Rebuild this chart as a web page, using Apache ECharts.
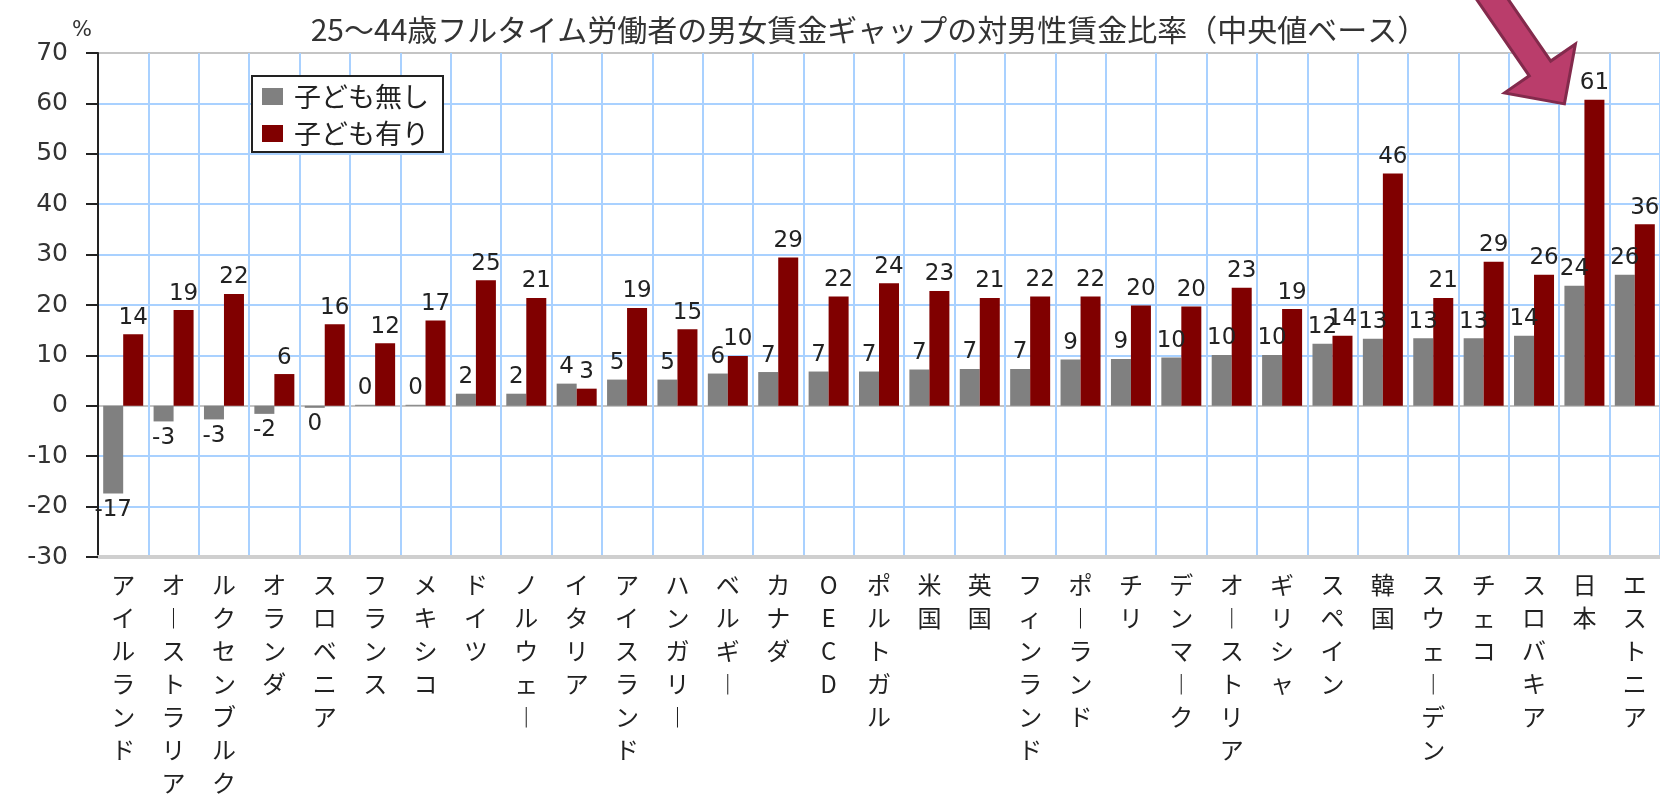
<!DOCTYPE html>
<html>
<head>
<meta charset="utf-8">
<script src="https://cdn.jsdelivr.net/npm/echarts@6/dist/echarts.min.js"></script>
<style>
html,body{margin:0;padding:0;background:#fff;}
#chart{width:1660px;height:803px;}
</style>
</head>
<body>
<div id="chart"></div>
<script>
// ---- data ----
const titleText = '25〜44歳フルタイム労働者の男女賃金ギャップの対男性賃金比率（中央値ベース）';
const unitLabel = '%';
const seriesNames = ['子ども無し', '子ども有り'];
const categories = ['アイルランド','オーストラリア','ルクセンブルク','オランダ','スロベニア','フランス','メキシコ','ドイツ','ノルウェー','イタリア','アイスランド','ハンガリー','ベルギー','カナダ','OECD','ポルトガル','米国','英国','フィンランド','ポーランド','チリ','デンマーク','オーストリア','ギリシャ','スペイン','韓国','スウェーデン','チェコ','スロバキア','日本','エストニア'];
const noChildren = [-17.4,-3.1,-2.7,-1.6,-0.4,0.2,0.2,2.4,2.4,4.4,5.2,5.2,6.4,6.7,6.8,6.8,7.2,7.3,7.3,9.2,9.3,9.6,10.1,10.1,12.3,13.3,13.4,13.4,13.9,23.8,26.0];
const withChildren = [14.2,19.0,22.2,6.3,16.2,12.4,16.9,24.9,21.4,3.4,19.4,15.2,9.9,29.4,21.7,24.3,22.8,21.4,21.7,21.7,19.9,19.7,23.4,19.2,13.9,46.1,21.4,28.6,26.0,60.7,36.0];
const yMin = -30, yMax = 70, yStep = 10;
const highlightCategory = '日本';

// ---- chart ----
const chart = echarts.init(document.getElementById('chart'));
const numFont = 'DejaVu Sans';
const jpFont = '"Noto Sans CJK JP", "Noto Sans", sans-serif';
const blue = '#a9d1ff';
const grayLine = '#c4c4c4';

function toItems(arr) {
  return arr.map(v => ({ value: v, label: { position: v < 0 ? 'bottom' : 'top' } }));
}
const labelCfg = {
  show: true,
  distance: 5,
  fontFamily: numFont,
  fontSize: 23,
  color: '#222',
  formatter: p => String(Math.round(p.value))
};

const splitColors = [];
for (let v = yMin; v <= yMax; v += yStep) {
  splitColors.push((v === 0 || v === yMin || v === yMax) ? grayLine : blue);
}

chart.setOption({
  animation: false,
  backgroundColor: '#fff',
  title: {
    text: titleText,
    left: 864,
    top: 10,
    textAlign: 'center',
    textStyle: { fontFamily: jpFont, fontSize: 30, fontWeight: 'normal', color: '#333' }
  },
  legend: {
    orient: 'vertical',
    left: 252,
    top: 76,
    padding: [7, 14, 5, 10],
    itemGap: 10,
    itemWidth: 21,
    itemHeight: 17,
    backgroundColor: '#fff',
    borderColor: '#222',
    borderWidth: 2,
    icon: 'rect',
    textStyle: { fontFamily: jpFont, fontSize: 27, color: '#222', padding: [0, 0, 0, 6] },
    data: seriesNames
  },
  grid: { left: 98, right: -13, top: 53, bottom: 246 },
  xAxis: {
    type: 'category',
    data: categories,
    position: 'bottom',
    axisLine: { onZero: false, lineStyle: { color: '#cfcfcf', width: 4 } },
    axisTick: { show: false },
    splitLine: { show: true, lineStyle: { color: blue, width: 2 } },
    axisLabel: {
      interval: 0,
      margin: 11,
      fontFamily: jpFont,
      fontSize: 24,
      lineHeight: 33,
      color: '#222',
      verticalAlign: 'top',
      formatter: name => name.split('').map(c => c === 'ー' ? '︱' : c).join('\n')
    }
  },
  yAxis: {
    type: 'value',
    min: yMin,
    max: yMax,
    interval: yStep,
    name: unitLabel,
    nameLocation: 'end',
    nameGap: 10,
    nameTextStyle: { fontFamily: numFont, fontSize: 21, color: '#333', align: 'right', padding: [0, 6, 0, 0] },
    axisLine: { show: true, lineStyle: { color: '#222', width: 2 } },
    axisTick: { show: true, length: 12, lineStyle: { color: '#222', width: 2 } },
    axisLabel: { fontFamily: numFont, fontSize: 25, color: '#333', margin: 30 },
    splitLine: { show: true, lineStyle: { color: splitColors, width: 2 } }
  },
  series: [
    {
      name: seriesNames[0],
      type: 'bar',
      data: toItems(noChildren),
      barWidth: 20,
      barGap: '0%',
      itemStyle: { color: '#808080' },
      label: labelCfg
    },
    {
      name: seriesNames[1],
      type: 'bar',
      data: toItems(withChildren),
      barWidth: 20,
      barGap: '0%',
      itemStyle: { color: '#800000' },
      label: labelCfg
    }
  ]
});

// ---- annotation arrow pointing at Japan's bar ----
const jIdx = categories.indexOf(highlightCategory);
const barTop = chart.convertToPixel({ seriesIndex: 1 }, [jIdx, withChildren[jIdx]]);
const cx = chart.convertToPixel({ xAxisIndex: 0 }, highlightCategory);
const T = [cx - 20, barTop[1] + 4];
const d = [0.568, 0.824];
const n = [-d[1], d[0]];
const H = 43, W = 43, S = 13, L = 200;
const B = [T[0] - H * d[0], T[1] - H * d[1]];
const pt = (p, a, v, b, u) => [p[0] + a * v[0] + (b || 0) * (u ? u[0] : 0), p[1] + a * v[1] + (b || 0) * (u ? u[1] : 0)];
const arrowPts = [
  T,
  pt(B, W, n),
  pt(B, S, n),
  pt(B, S, n, -L, d),
  pt(B, -S, n, -L, d),
  pt(B, -S, n),
  pt(B, -W, n)
];
chart.setOption({
  graphic: [{
    type: 'polygon',
    z: 100,
    shape: { points: arrowPts },
    style: { fill: '#ba3d6b', stroke: '#832a4c', lineWidth: 3 }
  }]
});
</script>
</body>
</html>
